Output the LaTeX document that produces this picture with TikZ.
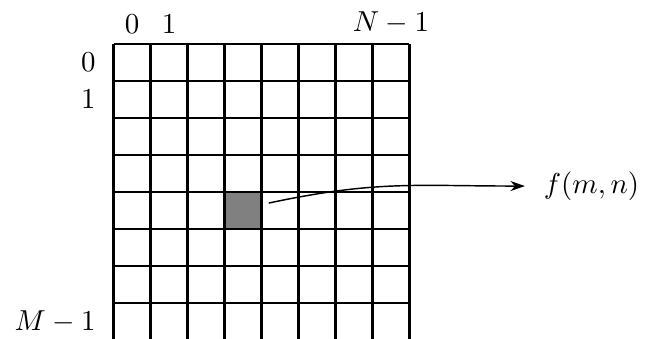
\documentclass[tikz,border=0pt]{standalone}
\usetikzlibrary{arrows.meta, positioning}

\begin{document}
\begin{tikzpicture}[
        x=0.45cm, y=0.45cm,
        >=Stealth,
        %% Grid: 8x8 cells, top-left corner at (0,0), rows run downwards.
        gridline/.style={line width=0.8pt, color=black},
        pixel/.style={rectangle, fill=gray, draw=none, inner sep=0pt, minimum size=0.45cm},
        collabel/.style={above, font=\normalsize},
        rowlabel/.style={anchor=east, inner sep=0pt, xshift=-6pt, font=\normalsize},
        maparrow/.style={->, >={Stealth[length=5pt, width=3.5pt]}, line width=0.5pt, color=black}
    ]
    %% --- Frame (keeps the reference margins) ---
    \useasboundingbox (-3.07,-7.95) rectangle (14.45,1.19);

    %% --- Shaded pixel (m,n), drawn before the grid ---
    \node[pixel] (pix) at (3.5,-4.5) {};

    %% --- Image grid ---
    \draw[gridline, step=0.45cm] (0,0) grid (8,-8);

    %% --- Column indices ---
    \node[collabel] (c0) at (0.5,0) {$0$};
    \node[collabel] (c1) at (1.5,0) {$1$};
    \node[collabel] (cN) at (7.5,0) {$N-1$};

    %% --- Row indices ---
    \node[rowlabel] (r0) at (0,-0.5) {$0$};
    \node[rowlabel] (r1) at (0,-1.5) {$1$};
    \node[rowlabel] (rM) at (0,-7.5) {$M-1$};

    %% --- Pixel value ---
    \node[anchor=west, inner xsep=6.4pt, inner ysep=0pt] (fmn) at (11.12,-3.84) {$f(m,n)$};

    %% --- Arrow: pixel -> f(m,n) ---
    \coordinate (src) at ([shift={(0.18,0.2)}]pix.east);
    \draw[maparrow] (src) to[out=12, in=180, looseness=1.1] (fmn.west);
\end{tikzpicture}
\end{document}
